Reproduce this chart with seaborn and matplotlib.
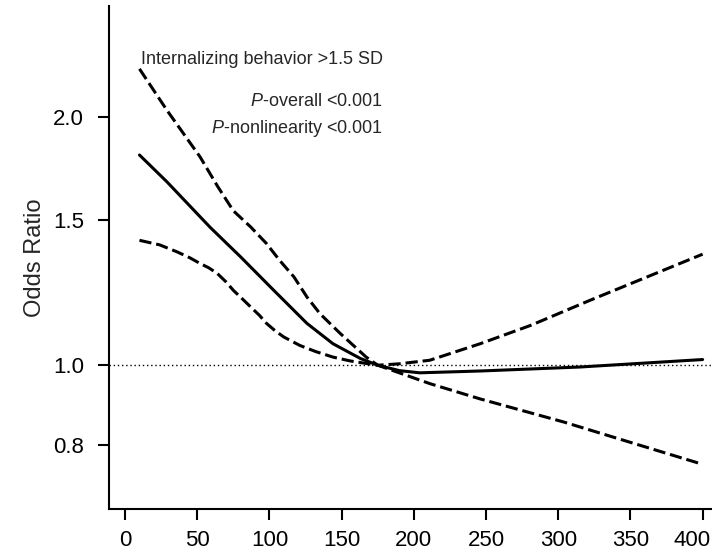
import numpy as np
import pandas as pd
import matplotlib
matplotlib.use("Agg")
import matplotlib.pyplot as plt
import matplotlib.transforms as mtransforms
from matplotlib import font_manager
import seaborn as sns

# Restricted cubic spline: odds ratio by exposure, reference at 175
x_or = [10, 29, 59, 80, 103, 126, 144, 163, 175, 190, 204, 246, 315, 400]
or_est = [1.80, 1.67, 1.47, 1.354, 1.233, 1.124, 1.062, 1.019, 1.0, 0.985,
          0.979, 0.984, 0.995, 1.016]

x_upper = [10, 29, 52, 64, 75, 87, 98, 107, 117, 126, 135, 149, 167, 175,
           190, 211, 246, 281, 322, 400]
or_upper = [2.29, 2.04, 1.79, 1.65, 1.54, 1.472, 1.405, 1.341, 1.280, 1.210,
            1.155, 1.093, 1.023, 1.0, 1.004, 1.014, 1.062, 1.118, 1.199, 1.364]

x_lower = [10, 24, 36, 45, 52, 58, 64, 70, 75, 81, 87, 93, 98, 104, 110,
           121, 132, 144, 156, 167, 175, 211, 246, 304, 350, 400]
or_lower = [1.418, 1.400, 1.373, 1.350, 1.329, 1.313, 1.292, 1.262, 1.233,
            1.205, 1.177, 1.150, 1.124, 1.101, 1.082, 1.057, 1.039, 1.023,
            1.012, 1.005, 1.0, 0.950, 0.910, 0.853, 0.806, 0.758]

x_ticks = [0, 50, 100, 150, 200, 250, 300, 350, 400]
y_ticks = [0.8, 1.0, 1.5, 2.0]
y_tick_labels = ["0.8", "1.0", "1.5", "2.0"]

title_line = "Internalizing behavior >1.5 SD"
p_overall = r"$\mathit{P}$-overall <0.001"
p_nonlin = r"$\mathit{P}$-nonlinearity <0.001"

sns.set_style("ticks")
plt.rcParams["font.family"] = ["Liberation Sans", "DejaVu Sans"]
plt.rcParams["mathtext.fontset"] = "custom"
plt.rcParams["mathtext.it"] = "Liberation Sans:italic"
plt.rcParams["mathtext.rm"] = "Liberation Sans"
plt.rcParams["lines.solid_joinstyle"] = "round"
plt.rcParams["lines.dash_joinstyle"] = "round"

installed = {f.name for f in font_manager.fontManager.ttflist}
note_family = ["Liberation Sans Narrow", "Liberation Sans", "DejaVu Sans"] \
    if "Liberation Sans Narrow" in installed else ["Liberation Sans", "DejaVu Sans"]

est_df = pd.DataFrame({"x": x_or, "or": or_est})
up_df = pd.DataFrame({"x": x_upper, "or": or_upper})
lo_df = pd.DataFrame({"x": x_lower, "or": or_lower})

fig = plt.figure(figsize=(7.12, 5.55), dpi=100)
ax = fig.add_axes([109 / 712, 46 / 555, 603 / 712, 503 / 555])

ax.axhline(1.0, color="black", lw=1.0, linestyle=(0, (1, 2)), zorder=1)

sns.lineplot(data=est_df, x="x", y="or", ax=ax, color="black", lw=2.2,
             estimator=None, sort=False, zorder=3)
sns.lineplot(data=up_df, x="x", y="or", ax=ax, color="black", lw=2.2,
             estimator=None, sort=False, zorder=3)
sns.lineplot(data=lo_df, x="x", y="or", ax=ax, color="black", lw=2.2,
             estimator=None, sort=False, zorder=3)
for line in ax.lines[2:]:
    line.set_dashes((4, 1.6))

ax.set_yscale("log")
ax.set_xlim(-11.1, 406.5)
ax.set_ylim(0.669, 2.73)
ax.set_xticks(x_ticks)
ax.set_xticklabels([str(t) for t in x_ticks])
ax.set_yticks(y_ticks)
ax.set_yticklabels(y_tick_labels)
ax.yaxis.set_minor_locator(matplotlib.ticker.NullLocator())
ax.xaxis.set_minor_locator(matplotlib.ticker.NullLocator())

ax.tick_params(axis="both", which="major", length=8, width=1.5,
               labelsize=16, color="black", labelcolor="black")
ax.tick_params(axis="y", pad=10)
ax.tick_params(axis="x", pad=7)

# keep the last x label inside the figure edge
last = ax.get_xticklabels()[-1]
last.set_horizontalalignment("right")
last.set_transform(last.get_transform() +
                   mtransforms.ScaledTranslation(8 / 100, 0, fig.dpi_scale_trans))

for side in ["top", "right"]:
    ax.spines[side].set_visible(False)
for side in ["left", "bottom"]:
    ax.spines[side].set_linewidth(1.5)
    ax.spines[side].set_color("black")

ax.set_xlabel("")
ax.set_ylabel("Odds Ratio", fontsize=17)
ax.yaxis.set_label_coords(-(109 - 46) / 603, 0.5)

tx = ax.transData
ax.text(178.7, 2.35, title_line, ha="right", va="center", fontsize=13,
        family=note_family, transform=tx)
ax.text(178.7, 2.09, p_overall, ha="right", va="center", fontsize=13,
        family=note_family, transform=tx)
ax.text(178.7, 1.94, p_nonlin, ha="right", va="center", fontsize=13,
        family=note_family, transform=tx)

fig.savefig("out.png", dpi=100)
